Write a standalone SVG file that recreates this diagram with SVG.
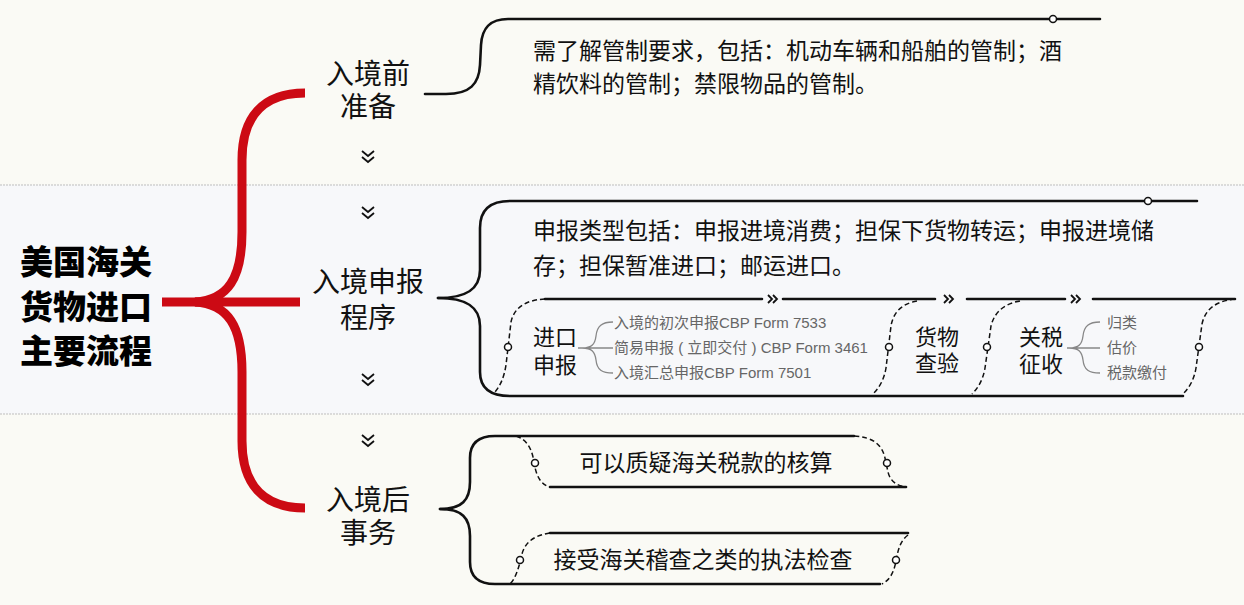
<svg xmlns="http://www.w3.org/2000/svg" width="1244" height="605" viewBox="0 0 1244 605">
<style>
.bg{fill:#fafaf5}
.band{fill:#f7f8fa}
.sep{stroke:#bdbdbd;stroke-width:1;stroke-dasharray:2,1;fill:none}
.red{stroke:#cc0a14;stroke-width:9;fill:none}
.ln{stroke:#111;stroke-width:2.6;fill:none;stroke-linecap:round}
.dash{stroke:#111;stroke-width:1.5;fill:none;stroke-dasharray:5,3}
.dot{fill:#fff;stroke:#111;stroke-width:1.5}
.chev{stroke:#111;stroke-width:1.8;fill:none}
.gb{stroke:#888;stroke-width:1.3;fill:none}
.title{font-family:"Noto Sans CJK SC",sans-serif;font-weight:900;font-size:33px;fill:#000;text-anchor:middle}
.lab{font-family:"Noto Sans CJK SC",sans-serif;font-size:28px;fill:#111;text-anchor:middle}
.body{font-family:"Noto Sans CJK SC",sans-serif;font-size:23px;fill:#111}
.step{font-family:"Noto Sans CJK SC",sans-serif;font-size:22px;fill:#111;text-anchor:middle}
.item{font-family:"Liberation Sans","Noto Sans CJK SC",sans-serif;font-size:15px;fill:#666}
</style>
<rect class="bg" x="0" y="0" width="1244" height="605"/>
<rect class="band" x="0" y="185" width="1244" height="229"/>
<line class="sep" x1="0" y1="185" x2="1244" y2="185"/>
<line class="sep" x1="0" y1="414" x2="1244" y2="414"/>

<g id="connectors">
  <path class="red" d="M305,93 C262,93 242,118 242,160 L242,232 C242,278 228,300 195,302"/>
  <path class="red" d="M305,508 C262,508 242,483 242,441 L242,372 C242,326 228,304 195,302"/>
  <path class="red" d="M162,302 L300,302"/>
  <path class="ln" d="M425,94 L446,94 C470,94 479,84 480,65 L481,45 C482,28 490,19 508,19 L1100,19"/>
  <circle class="dot" cx="1053" cy="19" r="3.5"/>
  <path class="ln" d="M438,298 C465,298 480,290 480,270 L480,228 C480,210 490,201 510,201 L1197,201"/>
  <path class="ln" d="M438,298 C465,298 480,306 480,326 L480,372 C480,388 490,396 510,396 L1183,396"/>
  <circle class="dot" cx="1148" cy="201" r="3.5"/>
  <path class="ln" d="M440,509 C462,509 470,500 470,482 L470,458 C470,444 478,436 495,436 L854,436"/>
  <path class="ln" d="M440,509 C462,509 470,518 470,536 L470,562 C470,576 478,584 495,584 L880,584"/>
  <path class="chev" d="M362,151 l6,5 l6,-5 M362,157 l6,5 l6,-5"/>
  <path class="chev" d="M362,207 l6,5 l6,-5 M362,213 l6,5 l6,-5"/>
  <path class="chev" d="M362,374 l6,5 l6,-5 M362,380 l6,5 l6,-5"/>
  <path class="chev" d="M362,435 l6,5 l6,-5 M362,441 l6,5 l6,-5"/>
</g>

<g id="node-root">
  <text class="title" x="86" y="274">美国海关</text>
  <text class="title" x="86" y="319">货物进口</text>
  <text class="title" x="86" y="363">主要流程</text>
</g>

<g id="node-prep">
  <text class="lab" x="368" y="84">入境前</text>
  <text class="lab" x="368" y="117">准备</text>
</g>
<g id="node-prep-detail">
  <text class="body" x="533" y="59">需了解管制要求，包括：机动车辆和船舶的管制；酒</text>
  <text class="body" x="533" y="92">精饮料的管制；禁限物品的管制。</text>
</g>

<g id="node-declare">
  <text class="lab" x="368" y="292">入境申报</text>
  <text class="lab" x="368" y="328">程序</text>
</g>
<g id="node-declare-detail">
  <text class="body" x="533" y="239">申报类型包括：申报进境消费；担保下货物转运；申报进境储</text>
  <text class="body" x="533" y="274">存；担保暂准进口；邮运进口。</text>
</g>

<g id="node-process">
  <path class="ln" d="M545,299 L762,299 M783,299 L935,299 M967,299 L1065,299 M1093,299 L1235,299"/>
  <path class="chev" stroke-width="2.2" d="M768,295 l4,4 l-4,4 M773,295 l4,4 l-4,4"/>
  <path class="chev" stroke-width="2.2" d="M944,295 l4,4 l-4,4 M949,295 l4,4 l-4,4"/>
  <path class="chev" stroke-width="2.2" d="M1071,295 l4,4 l-4,4 M1076,295 l4,4 l-4,4"/>
  <path class="dash" d="M545,299 C525,300 514,308 511,322 L506,365 C504,378 500,386 495,392"/>
  <path class="dash" d="M917,301 C900,304 893,314 891,326 L886,368 C884,380 879,388 873,394"/>
  <path class="dash" d="M1020,301 C1002,304 994,314 991,326 L985,368 C983,380 978,388 972,394"/>
  <path class="dash" d="M1235,299 C1215,301 1205,310 1202,324 L1196,368 C1194,380 1189,388 1183,394"/>
  <circle class="dot" cx="508" cy="347" r="3.5"/>
  <circle class="dot" cx="889" cy="347" r="3.5"/>
  <circle class="dot" cx="987" cy="347" r="3.5"/>
  <circle class="dot" cx="1199" cy="347" r="3.5"/>
</g>
<g id="node-step-import">
  <text class="step" x="555" y="345">进口</text>
  <text class="step" x="555" y="373">申报</text>
  <path class="gb" d="M578,348 L613,348 M582,348 C592,348 595,344 596,336 C597,326 602,322 613,322 M582,348 C592,348 595,352 596,360 C597,370 602,373 613,373"/>
  <text class="item" x="614" y="328">入境的初次申报CBP Form 7533</text>
  <text class="item" x="614" y="353">简易申报 ( 立即交付 ) CBP Form 3461</text>
  <text class="item" x="614" y="378">入境汇总申报CBP Form 7501</text>
</g>
<g id="node-step-inspect">
  <text class="step" x="937" y="345">货物</text>
  <text class="step" x="937" y="371">查验</text>
</g>
<g id="node-step-duty">
  <text class="step" x="1041" y="345">关税</text>
  <text class="step" x="1041" y="372">征收</text>
  <path class="gb" d="M1067,348 L1100,348 M1069,348 C1079,348 1082,344 1083,336 C1084,326 1089,322 1100,322 M1069,348 C1079,348 1082,352 1083,360 C1084,370 1089,373 1100,373"/>
  <text class="item" x="1107" y="328">归类</text>
  <text class="item" x="1107" y="353">估价</text>
  <text class="item" x="1107" y="378">税款缴付</text>
</g>

<g id="node-after">
  <text class="lab" x="368" y="510">入境后</text>
  <text class="lab" x="368" y="543">事务</text>
</g>
<g id="node-after-1">
  <path class="dash" d="M516,436 C528,440 532,450 534,462 C536,476 541,485 550,487"/>
  <path class="dash" d="M854,436 C872,437 882,444 885,458 L888,472 C890,481 897,486 906,487"/>
  <path class="ln" d="M550,487 L906,487"/>
  <circle class="dot" cx="535" cy="463" r="3.5"/>
  <circle class="dot" cx="887" cy="463" r="3.5"/>
  <text class="body" x="706" y="471" text-anchor="middle">可以质疑海关税款的核算</text>
</g>
<g id="node-after-2">
  <path class="ln" d="M550,533 L908,533"/>
  <path class="dash" d="M550,533 C535,535 525,542 522,554 C519,567 516,578 510,584"/>
  <path class="dash" d="M908,535 C900,541 898,550 896,561 C894,572 890,580 882,584"/>
  <circle class="dot" cx="520" cy="560" r="3.5"/>
  <circle class="dot" cx="896" cy="560" r="3.5"/>
  <text class="body" x="703" y="568" text-anchor="middle">接受海关稽查之类的执法检查</text>
</g>
</svg>
